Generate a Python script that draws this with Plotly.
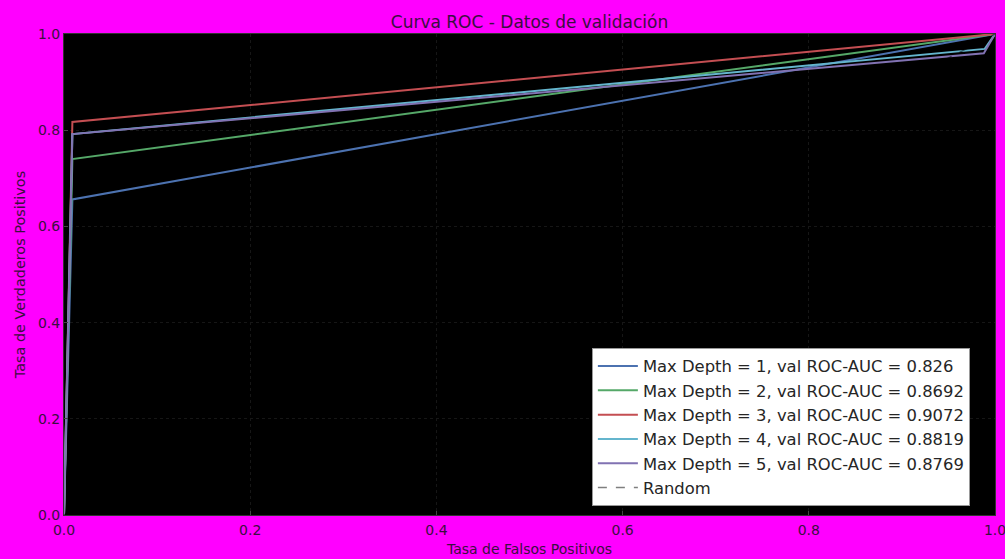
import plotly.graph_objects as go

depths = [1, 2, 3, 4, 5]
aucs = ["0.826", "0.8692", "0.9072", "0.8819", "0.8769"]
colors = ["#4C72B0", "#55A868", "#C44E52", "#64B5CD", "#8172B2"]
fpr_curves = [
    [0.0, 0.009, 1.0],
    [0.0, 0.009, 1.0],
    [0.0, 0.009, 1.0],
    [0.0, 0.009, 0.989, 1.0],
    [0.0, 0.009, 0.988, 1.0],
]
tpr_curves = [
    [0.0, 0.656, 1.0],
    [0.0, 0.740, 1.0],
    [0.0, 0.817, 1.0],
    [0.0, 0.792, 0.969, 1.0],
    [0.0, 0.792, 0.960, 1.0],
]
random_x = [0.0, 1.0]
random_y = [0.0, 1.0]

TXT = "#3b0f40"
fig = go.Figure()
for d, a, c, fx, fy in zip(depths, aucs, colors, fpr_curves, tpr_curves):
    fig.add_trace(go.Scatter(x=fx, y=fy, mode="lines", line=dict(color=c, width=2),
                             name=f"Max Depth = {d}, val ROC-AUC = {a}"))
fig.add_trace(go.Scatter(x=random_x, y=random_y, mode="lines",
                         line=dict(color="rgba(0,0,0,0.5)", width=1.5, dash="dash"),
                         name="Random"))

axis_common = dict(range=[0, 1], tickvals=[0, 0.2, 0.4, 0.6, 0.8, 1.0],
                   ticktext=["0.0", "0.2", "0.4", "0.6", "0.8", "1.0"],
                   showgrid=True, gridcolor="#161616", griddash="dot", gridwidth=1,
                   zeroline=False, showline=True, linecolor="#333333", mirror=True,
                   ticks="inside", ticklen=4, tickcolor="#444444",
                   ticklabeloverflow="allow", automargin=False,
                   tickfont=dict(family="DejaVu Sans", size=14, color=TXT))
fig.update_xaxes(**axis_common, ticklabelstandoff=2,
                 title=dict(text="Tasa de Falsos Positivos", standoff=7,
                            font=dict(family="DejaVu Sans", size=14, color=TXT)))
fig.update_yaxes(**axis_common,
                 title=dict(text="Tasa de Verdaderos Positivos", standoff=8,
                            font=dict(family="DejaVu Sans", size=14.4, color=TXT)))

fig.update_layout(
    width=1005, height=559,
    paper_bgcolor="#FF00FF", plot_bgcolor="#000000",
    margin=dict(l=64, r=10, t=34, b=44),
    title=dict(text="Curva ROC - Datos de validación", x=(64 + 995) / 2 / 1005, xanchor="center",
               y=1 - 22 / 559, yanchor="middle",
               font=dict(family="DejaVu Sans", size=17, color=TXT)),
    legend=dict(x=0.567, y=0.019, xanchor="left", yanchor="bottom",
                bgcolor="#FFFFFF", bordercolor="#999999", borderwidth=1,
                font=dict(family="DejaVu Sans", size=16.4, color="#262626"),
                tracegroupgap=0, itemwidth=40),
    showlegend=True,
)
fig.write_html("out.html")
